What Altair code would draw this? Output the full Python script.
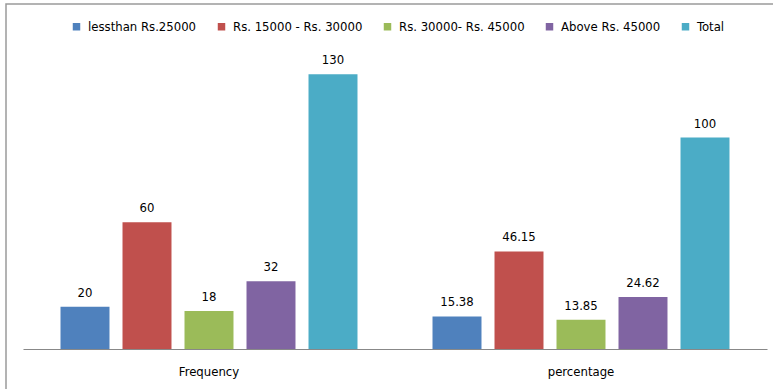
import altair as alt
import pandas as pd

categories = ["Frequency", "percentage"]
series = ["lessthan Rs.25000", "Rs. 15000 - Rs. 30000", "Rs. 30000- Rs. 45000", "Above Rs. 45000", "Total"]
frequency = [20, 60, 18, 32, 130]
percentage = [15.38, 46.15, 13.85, 24.62, 100]
labels_freq = ["20", "60", "18", "32", "130"]
labels_pct = ["15.38", "46.15", "13.85", "24.62", "100"]
colors = ["#4F81BD", "#C0504D", "#9BBB59", "#8064A2", "#4BACC6"]

rows = []
for s, v, l in zip(series, frequency, labels_freq):
    rows.append({"category": "Frequency", "series": s, "value": v, "label": l})
for s, v, l in zip(series, percentage, labels_pct):
    rows.append({"category": "percentage", "series": s, "value": v, "label": l})
df = pd.DataFrame(rows)

FONT = "DejaVu Sans Condensed, Roboto, sans-serif"

x = alt.X("category:N", sort=categories, title=None,
          scale=alt.Scale(paddingInner=0, paddingOuter=0),
          axis=alt.Axis(labelAngle=0, ticks=False, labelPadding=16, labelFontSize=13,
                        labelFont=FONT, labelColor="#000000", domainColor="#888888", domainWidth=1.2))
xo = alt.XOffset("series:N", sort=series,
                 scale=alt.Scale(paddingInner=0.21, paddingOuter=0.605))
y = alt.Y("value:Q", scale=alt.Scale(domain=[0, 140]), axis=None)

bars = alt.Chart(df).mark_bar().encode(
    x=x, xOffset=xo, y=y,
    color=alt.Color("series:N", sort=series,
                    scale=alt.Scale(domain=series, range=colors),
                    legend=alt.Legend(title=None, orient="none", direction="horizontal",
                                      legendX=47, legendY=-33, columns=5,
                                      symbolType="square", symbolSize=56, symbolStrokeWidth=0,
                                      labelFont=FONT, labelFontSize=13, labelColor="#000000",
                                      columnPadding=18, labelOffset=5)),
)

text = alt.Chart(df).mark_text(dy=-14, fontSize=13, font=FONT, color="#000000").encode(
    x=x, xOffset=xo, y=y, text="label:N"
)

border = alt.Chart(pd.DataFrame({"a": [0]})).mark_rect(
    fill=None, stroke="#9a9a9a", strokeWidth=1.5, clip=False
).encode(
    x=alt.value(-17), x2=alt.value(760), y=alt.value(-49), y2=alt.value(345)
)

chart = alt.layer(border, bars, text).properties(
    width=744, height=296,
    autosize=alt.AutoSizeParams(type="none"),
    padding={"left": 23, "top": 53, "right": 6, "bottom": 40},
    background="#ffffff",
).configure_view(stroke=None)

chart.save("out.html", embed_options={"renderer": "svg", "actions": False})
